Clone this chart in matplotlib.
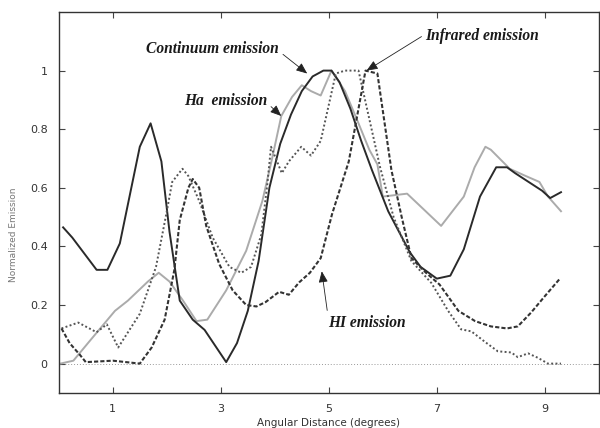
import numpy as np
import matplotlib
matplotlib.use("Agg")
import matplotlib.pyplot as plt

# Continuum emission (solid dark)
cont_x = [0.08, 0.25, 0.7, 0.9, 1.13, 1.5, 1.7, 1.9, 2.05, 2.24, 2.48, 2.7, 3.1, 3.3, 3.5,
          3.7, 3.9, 4.1, 4.3, 4.5, 4.7, 4.9, 5.05, 5.2, 5.4, 5.6, 5.8, 6.1, 6.5, 6.7, 7.0,
          7.25, 7.5, 7.8, 8.1, 8.3, 8.45, 8.7, 8.95, 9.1, 9.3]
cont_y = [0.465, 0.43, 0.32, 0.32, 0.41, 0.74, 0.82, 0.69, 0.45, 0.215, 0.15, 0.115, 0.005,
          0.07, 0.18, 0.35, 0.6, 0.75, 0.85, 0.93, 0.98, 1.0, 1.0, 0.96, 0.87, 0.76, 0.66,
          0.52, 0.38, 0.33, 0.29, 0.30, 0.39, 0.57, 0.67, 0.67, 0.65, 0.62, 0.59, 0.565, 0.585]

# H-alpha emission (solid light gray)
ha_x = [0.03, 0.27, 0.54, 1.04, 1.28, 1.65, 1.85, 2.05, 2.3, 2.55, 2.75, 3.1, 3.47, 3.77,
        3.95, 4.12, 4.32, 4.5, 4.67, 4.85, 5.05, 5.3, 5.55, 5.75, 5.9, 6.0, 6.45, 7.08,
        7.5, 7.7, 7.9, 8.0, 8.35, 8.65, 8.9, 9.06, 9.3]
ha_y = [0.0, 0.01, 0.07, 0.18, 0.215, 0.28, 0.31, 0.28, 0.215, 0.145, 0.15, 0.25, 0.385,
        0.555, 0.7, 0.845, 0.91, 0.95, 0.93, 0.915, 1.0, 0.93, 0.82, 0.73, 0.68, 0.57, 0.58,
        0.47, 0.57, 0.67, 0.74, 0.73, 0.665, 0.64, 0.62, 0.57, 0.52]

# Infrared emission (fine dotted)
ir_x = [0.05, 0.36, 0.7, 0.89, 1.1, 1.5, 1.8, 1.99, 2.1, 2.29, 2.4, 2.6, 2.85, 3.16, 3.38,
        3.56, 3.75, 3.86, 3.93, 4.13, 4.26, 4.49, 4.67, 4.85, 5.13, 5.3, 5.55, 5.95, 6.2,
        6.53, 6.9, 7.21, 7.45, 7.64, 7.9, 8.13, 8.38, 8.5, 8.69, 8.87, 9.06, 9.3]
ir_y = [0.12, 0.14, 0.107, 0.134, 0.055, 0.17, 0.33, 0.51, 0.62, 0.665, 0.64, 0.555, 0.43,
        0.33, 0.31, 0.33, 0.44, 0.61, 0.74, 0.65, 0.69, 0.74, 0.71, 0.76, 0.99, 1.0, 1.0,
        0.67, 0.5, 0.35, 0.275, 0.18, 0.117, 0.11, 0.073, 0.042, 0.038, 0.022, 0.035, 0.02,
        0.0, 0.0]

# HI emission (dashed)
hi_x = [0.05, 0.2, 0.39, 0.5, 1.0, 1.5, 1.72, 1.96, 2.14, 2.24, 2.4, 2.48, 2.6, 2.73, 2.97,
        3.22, 3.47, 3.66, 3.83, 4.08, 4.26, 4.45, 4.65, 4.85, 5.06, 5.37, 5.68, 5.9, 6.16,
        6.35, 6.53, 6.8, 7.05, 7.4, 7.71, 8.0, 8.3, 8.5, 8.75, 9.0, 9.28]
hi_y = [0.12, 0.07, 0.03, 0.005, 0.01, 0.0, 0.055, 0.15, 0.32, 0.49, 0.6, 0.63, 0.6, 0.47,
        0.34, 0.25, 0.2, 0.195, 0.21, 0.245, 0.235, 0.277, 0.31, 0.36, 0.51, 0.69, 1.0, 0.99,
        0.66, 0.5, 0.36, 0.31, 0.27, 0.18, 0.145, 0.127, 0.12, 0.127, 0.175, 0.23, 0.29]

xticks = [1, 3, 5, 7, 9]
yticks = [0, 0.2, 0.4, 0.6, 0.8, 1]
ytick_labels = ["0", "0.2", "0.4", "0.6", "0.8", "1"]

fig = plt.figure(figsize=(6, 4.28), dpi=100)
ax = fig.add_axes([0.098, 0.082, 0.9, 0.89])

ax.axhline(0, color="#999999", lw=0.7, ls=(0, (1, 2)), zorder=1)
ax.plot(ha_x, ha_y, color="#ababab", lw=1.4, zorder=2)
ax.plot(cont_x, cont_y, color="#2a2a2a", lw=1.4, zorder=3)
ax.plot(ir_x, ir_y, color="#555555", lw=1.4, ls=(0, (1, 1.2)), zorder=3)
ax.plot(hi_x, hi_y, color="#333333", lw=1.5, ls=(0, (2, 1)), zorder=3)

ax.set_xlim(0, 10)
ax.set_ylim(-0.1, 1.2)
ax.set_xticks(xticks)
ax.set_yticks(yticks)
ax.set_yticklabels(ytick_labels)
ax.tick_params(direction="in", length=4, width=0.8, top=True, right=True,
               labelsize=8, colors="#444444", labelcolor="#333333", pad=8)
for s in ax.spines.values():
    s.set_color("#333333")
    s.set_linewidth(1.0)

ax.set_xlabel("Angular Distance (degrees)", fontsize=7.5, color="#333333", labelpad=3)
ax.set_ylabel("Normalized Emission", fontsize=6.5, color="#777777")
ax.yaxis.set_label_coords(-0.076, 0.415)

tfont = dict(family="Liberation Serif", fontweight="bold", fontstyle="italic",
             fontsize=11.2, color="#1a1a1a")


def arrow(rel):
    return dict(arrowstyle="-|>,head_length=0.6,head_width=0.25", color="#222222",
                lw=0.6, shrinkA=1, shrinkB=0, relpos=rel)


ax.annotate("Continuum emission", xy=(4.6, 0.99), xytext=(4.08, 1.074), ha="right",
            va="center", arrowprops=arrow((1.0, 0.35)), **tfont)
ax.annotate("Ha  emission", xy=(4.12, 0.845), xytext=(3.86, 0.897), ha="right",
            va="center", arrowprops=arrow((1.0, 0.35)), **tfont)
ax.annotate("Infrared emission", xy=(5.7, 1.0), xytext=(6.79, 1.119), ha="left",
            va="center", arrowprops=arrow((0.0, 0.6)), **tfont)
ax.annotate("HI emission", xy=(4.87, 0.315), xytext=(5.7, 0.14), ha="center",
            va="center", arrowprops=arrow((0.0, 1.0)), **tfont)

fig.savefig("out.png", dpi=100)
